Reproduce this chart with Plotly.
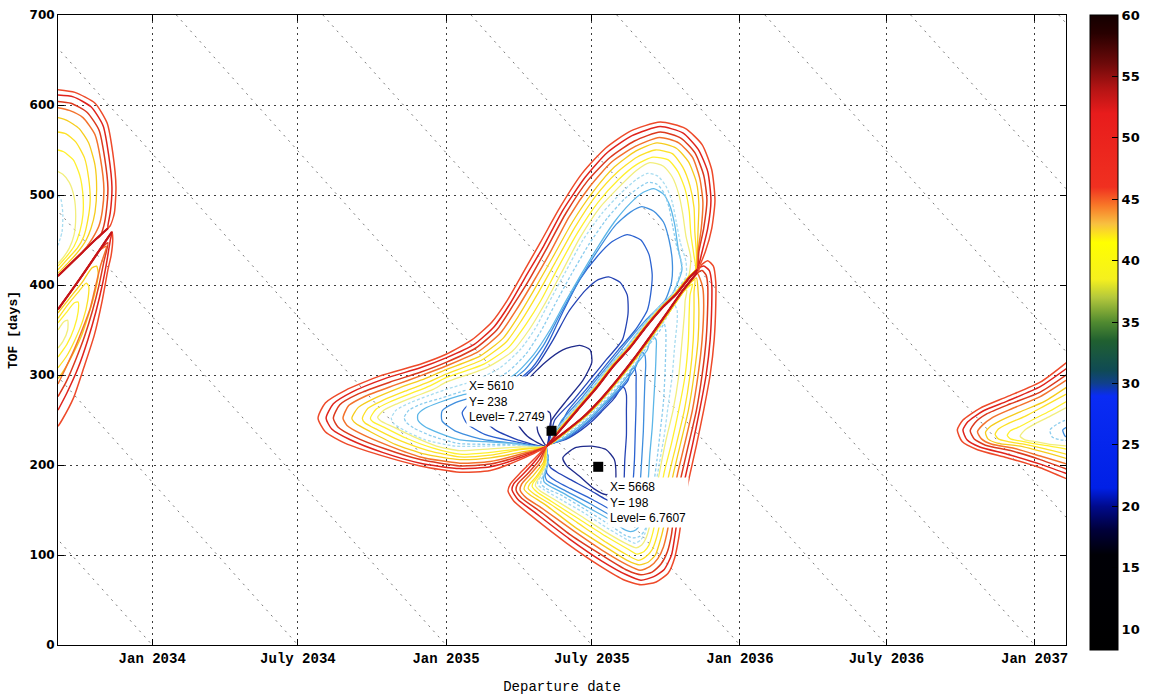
import plotly.graph_objects as go

# ---------------------------------------------------------------------------
# Axes: departure day (days counted from 2020-01-01) and time of flight (days)
# ---------------------------------------------------------------------------
DEPART_TICKS = [5114, 5295, 5479, 5660, 5844, 6026, 6210]
DEPART_LABELS = ["Jan 2034", "July 2034", "Jan 2035", "July 2035",
                 "Jan 2036", "July 2036", "Jan 2037"]
ARRIVAL_DATES = [5114, 5295, 5479, 5660, 5844, 6026, 6210, 6391, 6575, 6756, 6940]
TOF_TICKS = [0, 100, 200, 300, 400, 500, 600, 700]
X_RANGE = [4997, 6249]
Y_RANGE = [0, 700]

C3_MIN, C3_MAX = 8.3, 60.0
C3_TICKS = [10, 15, 20, 25, 30, 35, 40, 45, 50, 55, 60]

# contour colours, highest level first
LINE_COLORS = ["#ee4a2a", "#e0241c", "#dc3a1e", "#f3722c",
               "#f6cc1c", "#fde126", "#fff02e", "#f2ee7c",
               "#a8dcf0", "#8ccdee", "#5cb6e8", "#3f8ede",
               "#2b62d0", "#2443b4", "#1f2b8c"]
DOTTED = {8, 9}
EDGE_COLOR = "#c4141a"

# data tips
TIP_X = [5610, 5668]
TIP_Y = [238, 198]
TIP_LEVEL = ["7.2749", "6.7607"]

# ---------------------------------------------------------------------------
# 2035 window - type II wing (above the 180 deg transfer line)
# ---------------------------------------------------------------------------
UPPER_EDGE = [(5791, 417), (5782, 409), (5765, 390), (5749, 376), (5727, 353), (5708, 331),
              (5686, 309), (5667, 287), (5643, 262), (5621, 239), (5604, 221)]
UPPER_EDGE_Y = [(5789, 417), (5780, 409), (5763, 390), (5747, 376), (5725, 353), (5706, 331),
                (5684, 309), (5665, 287), (5641, 262), (5619, 239), (5604, 221)]
UPPER_EDGE_C = [(5786, 417), (5777, 409), (5760, 390), (5744, 376), (5722, 353), (5703, 331),
                (5681, 309), (5662, 287), (5638, 262), (5616, 239), (5604, 221)]

U1 = [(5604, 221), (5571, 206), (5534, 194), (5496, 192), (5447, 199), (5397, 211), (5354, 224),
      (5329, 237), (5320, 252), (5329, 269), (5354, 283), (5397, 299), (5447, 312), (5479, 323),
      (5511, 339), (5536, 359), (5555, 383), (5573, 411), (5596, 447), (5621, 487), (5648, 524),
      (5677, 552), (5708, 571), (5745, 581), (5776, 574), (5797, 556), (5809, 528), (5813, 494),
      (5809, 463), (5801, 437)]
U2 = [(5604, 221), (5571, 208), (5534, 198), (5496, 196), (5447, 202), (5400, 214), (5360, 228),
      (5337, 240), (5330, 252), (5339, 268), (5362, 281), (5403, 296), (5447, 308), (5479, 319),
      (5514, 334), (5539, 354), (5559, 380), (5577, 408), (5600, 443), (5624, 483), (5652, 520),
      (5679, 547), (5710, 566), (5745, 576), (5773, 569), (5792, 551), (5804, 526), (5808, 494),
      (5804, 463), (5797, 437)]
U3 = [(5604, 221), (5571, 210), (5534, 201), (5496, 199), (5447, 206), (5403, 218), (5366, 231),
      (5345, 242), (5339, 252), (5347, 267), (5370, 279), (5409, 292), (5447, 303), (5479, 314),
      (5516, 330), (5542, 350), (5562, 377), (5581, 404), (5603, 439), (5628, 480), (5655, 516),
      (5683, 542), (5713, 560), (5745, 570), (5771, 563), (5788, 547), (5799, 522), (5803, 494),
      (5799, 463), (5793, 437)]
U4 = [(5604, 221), (5571, 212), (5534, 204), (5496, 202), (5447, 209), (5409, 221), (5375, 234),
      (5356, 244), (5351, 252), (5358, 266), (5380, 277), (5416, 289), (5447, 299), (5479, 310),
      (5519, 326), (5546, 346), (5566, 372), (5585, 400), (5607, 434), (5632, 476), (5658, 510),
      (5685, 537), (5714, 554), (5744, 564), (5768, 558), (5785, 542), (5794, 519), (5798, 492),
      (5796, 463), (5792, 437)]
U5 = [(5604, 221), (5571, 214), (5534, 208), (5496, 206), (5453, 212), (5416, 223), (5385, 237),
      (5367, 246), (5362, 252), (5370, 264), (5390, 274), (5422, 286), (5453, 296), (5479, 306),
      (5521, 321), (5550, 341), (5570, 367), (5588, 394), (5611, 430), (5636, 470), (5662, 504),
      (5688, 531), (5715, 549), (5741, 558), (5765, 552), (5780, 537), (5790, 514), (5793, 489),
      (5792, 461), (5791, 437)]
U6 = [(5604, 221), (5571, 217), (5534, 211), (5496, 209), (5457, 216), (5422, 227), (5394, 239),
      (5378, 247), (5375, 252), (5382, 263), (5401, 272), (5428, 282), (5457, 292), (5479, 301),
      (5524, 317), (5554, 337), (5573, 361), (5592, 389), (5614, 424), (5639, 464), (5665, 499),
      (5690, 524), (5716, 542), (5739, 550), (5760, 546), (5773, 531), (5782, 510), (5787, 486),
      (5788, 459), (5790, 434)]
U7 = [(5604, 221), (5571, 218), (5534, 214), (5496, 212), (5462, 219), (5429, 230), (5404, 241),
      (5388, 248), (5385, 252), (5392, 262), (5409, 270), (5434, 279), (5459, 288), (5479, 297),
      (5526, 312), (5557, 331), (5578, 356), (5597, 383), (5618, 419), (5643, 459), (5668, 492),
      (5693, 517), (5716, 534), (5736, 542), (5755, 539), (5767, 526), (5776, 506), (5781, 482),
      (5783, 457), (5787, 432)]
U8 = [(5604, 221), (5571, 220), (5534, 218), (5496, 216), (5467, 221), (5437, 232), (5414, 242),
      (5398, 249), (5394, 253), (5402, 261), (5418, 268), (5440, 276), (5463, 284), (5479, 292),
      (5529, 308), (5561, 326), (5582, 350), (5601, 378), (5622, 413), (5645, 452), (5670, 486),
      (5694, 509), (5715, 527), (5732, 536), (5749, 532), (5760, 520), (5768, 501), (5773, 479),
      (5777, 454), (5783, 430)]
U9 = [(5604, 221), (5565, 222), (5527, 221), (5490, 221), (5453, 228), (5428, 238), (5414, 246),
      (5411, 252), (5417, 261), (5434, 269), (5457, 277), (5479, 284), (5515, 294), (5546, 308),
      (5571, 328), (5590, 352), (5607, 381), (5627, 414), (5649, 450), (5673, 480), (5696, 502),
      (5715, 517), (5729, 524), (5742, 521), (5752, 510), (5760, 492), (5765, 470), (5770, 447),
      (5777, 426)]
U10 = [(5604, 221), (5565, 223), (5527, 223), (5494, 224), (5462, 232), (5439, 241), (5429, 248),
       (5427, 253), (5433, 261), (5449, 268), (5472, 274), (5496, 281), (5527, 290), (5555, 303),
       (5578, 323), (5597, 349), (5614, 378), (5634, 411), (5657, 446), (5679, 474), (5701, 496),
       (5718, 508), (5730, 514), (5741, 512), (5750, 502), (5756, 486), (5761, 463), (5766, 441),
       (5772, 422)]
U11 = [(5604, 221), (5565, 224), (5527, 226), (5496, 228), (5469, 236), (5452, 243), (5444, 250),
       (5444, 256), (5453, 263), (5472, 270), (5496, 277), (5534, 286), (5565, 301), (5588, 323),
       (5608, 350), (5627, 381), (5647, 412), (5668, 443), (5688, 470), (5708, 491), (5724, 503),
       (5737, 507), (5749, 501), (5757, 488), (5763, 467), (5767, 442), (5772, 417)]
U12 = [(5604, 221), (5565, 224), (5521, 229), (5490, 238), (5474, 249), (5474, 260), (5490, 269),
       (5519, 277), (5550, 288), (5577, 306), (5600, 333), (5621, 368), (5643, 403), (5667, 438),
       (5689, 466), (5708, 481), (5722, 487), (5737, 482), (5749, 470), (5756, 450), (5760, 426),
       (5759, 403), (5751, 383), (5727, 361), (5706, 339), (5686, 317), (5665, 294), (5645, 272),
       (5623, 250), (5604, 221)]
U13 = [(5604, 221), (5565, 226), (5527, 234), (5505, 246), (5499, 258), (5509, 269), (5534, 278),
       (5561, 289), (5586, 308), (5606, 336), (5624, 370), (5645, 406), (5667, 432), (5685, 448),
       (5704, 456), (5721, 450), (5731, 434), (5735, 412), (5733, 389), (5729, 372), (5714, 350),
       (5693, 328), (5673, 306), (5652, 283), (5631, 261), (5604, 221)]
U14 = [(5604, 221), (5568, 228), (5540, 239), (5524, 252), (5525, 267), (5542, 278), (5568, 291),
       (5592, 311), (5612, 339), (5631, 370), (5652, 394), (5668, 406), (5681, 409), (5695, 403),
       (5704, 389), (5705, 368), (5698, 339), (5678, 317), (5657, 294), (5637, 272), (5614, 250),
       (5604, 221)]
U15 = [(5604, 221), (5580, 232), (5565, 250), (5566, 272), (5580, 294), (5602, 314), (5624, 328),
       (5645, 333), (5658, 328), (5660, 314), (5649, 294), (5629, 272), (5609, 248), (5604, 221)]
U16 = [(5604, 221), (5593, 237), (5592, 252), (5600, 261), (5608, 258), (5609, 241), (5604, 221)]

# ---------------------------------------------------------------------------
# 2035 window - type I wing (below the 180 deg transfer line)
# ---------------------------------------------------------------------------
LOWER_EDGE = [(5791, 414), (5782, 404), (5773, 394), (5755, 371), (5736, 347), (5714, 320),
              (5691, 294), (5670, 272), (5649, 253), (5627, 237), (5608, 224), (5604, 221)]
LOWER_EDGE_Y = [(5793, 414), (5784, 404), (5775, 394), (5757, 371), (5738, 347), (5716, 320),
                (5693, 294), (5672, 272), (5651, 253), (5629, 237), (5610, 224), (5604, 221)]

L1 = [(5604, 221), (5590, 208), (5571, 191), (5559, 179), (5556, 171), (5563, 160), (5587, 142),
      (5629, 113), (5670, 88), (5701, 72), (5721, 67), (5740, 70), (5755, 80), (5763, 97),
      (5768, 119), (5773, 150), (5781, 186), (5790, 222), (5799, 261), (5807, 300), (5812, 339),
      (5814, 378), (5814, 403), (5811, 421), (5804, 427), (5797, 423)]
L2 = [(5604, 221), (5592, 207), (5576, 191), (5563, 179), (5561, 172), (5568, 162), (5591, 146),
      (5632, 118), (5673, 93), (5703, 78), (5721, 72), (5737, 76), (5750, 84), (5759, 100),
      (5763, 120), (5768, 150), (5776, 186), (5785, 222), (5794, 261), (5802, 300), (5807, 339),
      (5809, 378), (5809, 401), (5806, 416), (5799, 421), (5793, 419)]
L3 = [(5604, 221), (5595, 206), (5580, 190), (5568, 179), (5566, 172), (5573, 163), (5595, 149),
      (5634, 122), (5674, 99), (5704, 83), (5721, 78), (5735, 81), (5746, 90), (5754, 104),
      (5759, 123), (5763, 152), (5771, 187), (5780, 222), (5790, 261), (5797, 300), (5802, 339),
      (5804, 378), (5804, 399), (5802, 411), (5797, 416), (5792, 414)]
L4 = [(5604, 221), (5597, 204), (5583, 189), (5573, 179), (5571, 172), (5578, 164), (5598, 152),
      (5637, 127), (5675, 104), (5704, 89), (5720, 83), (5732, 87), (5742, 96), (5749, 109),
      (5754, 127), (5759, 154), (5766, 188), (5775, 222), (5785, 261), (5792, 300), (5797, 339),
      (5799, 378), (5798, 396), (5794, 408), (5791, 413)]
L5 = [(5604, 221), (5600, 203), (5587, 188), (5578, 179), (5576, 173), (5583, 167), (5602, 156),
      (5639, 131), (5677, 109), (5704, 94), (5719, 89), (5730, 92), (5739, 100), (5744, 113),
      (5749, 130), (5754, 157), (5761, 189), (5770, 223), (5780, 261), (5787, 300), (5792, 339),
      (5793, 374), (5792, 394), (5790, 408)]
L6 = [(5604, 221), (5601, 202), (5591, 187), (5583, 179), (5581, 174), (5588, 168), (5606, 158),
      (5642, 136), (5678, 114), (5704, 100), (5718, 94), (5727, 98), (5735, 106), (5740, 118),
      (5744, 133), (5749, 159), (5756, 190), (5765, 223), (5775, 261), (5782, 300), (5786, 339),
      (5787, 372), (5787, 392), (5788, 406)]
L7 = [(5604, 221), (5602, 202), (5593, 187), (5587, 180), (5586, 176), (5592, 170), (5609, 160),
      (5644, 140), (5679, 120), (5704, 107), (5716, 101), (5725, 104), (5731, 111), (5735, 122),
      (5739, 138), (5744, 162), (5750, 192), (5759, 224), (5768, 261), (5776, 300), (5780, 339),
      (5781, 370), (5782, 389), (5785, 401)]
L8 = [(5604, 221), (5603, 201), (5596, 188), (5591, 181), (5590, 177), (5596, 171), (5613, 162),
      (5647, 143), (5680, 124), (5704, 112), (5715, 108), (5722, 111), (5727, 118), (5731, 129),
      (5734, 144), (5739, 168), (5745, 196), (5752, 227), (5761, 261), (5768, 299), (5772, 337),
      (5775, 367), (5776, 383), (5778, 394)]
L9 = [(5604, 221), (5604, 202), (5598, 189), (5593, 182), (5593, 178), (5600, 173), (5617, 164),
      (5650, 147), (5681, 129), (5704, 117), (5714, 113), (5721, 117), (5726, 124), (5730, 137),
      (5734, 153), (5739, 176), (5744, 202), (5750, 233), (5755, 267), (5760, 300), (5763, 333),
      (5766, 359), (5766, 372), (5762, 379), (5757, 370), (5751, 361), (5742, 350), (5734, 339),
      (5724, 328), (5715, 317), (5705, 306), (5695, 294), (5685, 283), (5674, 272), (5662, 261),
      (5649, 250), (5634, 239), (5617, 228), (5604, 221)]
L10 = [(5604, 221), (5606, 203), (5601, 190), (5597, 183), (5597, 179), (5603, 174), (5621, 167),
       (5653, 150), (5683, 133), (5701, 122), (5711, 119), (5720, 121), (5726, 128), (5730, 140),
       (5734, 157), (5737, 179), (5741, 206), (5745, 237), (5749, 270), (5751, 303), (5752, 333),
       (5752, 348), (5750, 357), (5745, 350), (5736, 339), (5726, 328), (5718, 317), (5708, 306),
       (5698, 294), (5688, 283), (5677, 272), (5664, 261), (5652, 250), (5637, 239), (5619, 228),
       (5604, 221)]
L11 = [(5604, 221), (5606, 204), (5602, 192), (5600, 186), (5601, 181), (5607, 177), (5624, 169),
       (5655, 153), (5683, 139), (5699, 129), (5708, 126), (5715, 128), (5720, 134), (5724, 146),
       (5726, 161), (5730, 183), (5732, 211), (5735, 241), (5737, 272), (5739, 303), (5740, 328),
       (5740, 339), (5736, 343), (5732, 337), (5729, 328), (5720, 317), (5710, 306), (5700, 294),
       (5690, 283), (5679, 272), (5667, 261), (5654, 250), (5639, 239), (5622, 228), (5604, 221)]
L12 = [(5604, 221), (5606, 206), (5603, 194), (5602, 188), (5604, 183), (5611, 179), (5628, 171),
       (5658, 157), (5683, 144), (5698, 137), (5705, 134), (5711, 138), (5715, 146), (5718, 159),
       (5720, 178), (5722, 206), (5724, 237), (5725, 267), (5726, 294), (5727, 311), (5726, 322),
       (5722, 326), (5719, 319), (5713, 306), (5703, 294), (5693, 283), (5681, 272), (5669, 261),
       (5657, 250), (5642, 239), (5624, 228), (5604, 221)]
L13 = [(5604, 221), (5606, 207), (5604, 197), (5604, 191), (5608, 187), (5616, 182), (5633, 174),
       (5660, 162), (5680, 152), (5693, 147), (5700, 146), (5705, 150), (5709, 161), (5711, 178),
       (5713, 206), (5714, 237), (5715, 267), (5715, 289), (5715, 301), (5713, 308), (5709, 306),
       (5705, 294), (5695, 283), (5683, 272), (5672, 261), (5659, 250), (5644, 239), (5627, 229),
       (5604, 221)]
L14 = [(5604, 221), (5604, 209), (5606, 202), (5609, 197), (5617, 192), (5633, 184), (5658, 172),
       (5677, 162), (5689, 157), (5695, 157), (5699, 163), (5700, 178), (5701, 206), (5703, 233),
       (5703, 261), (5703, 278), (5700, 286), (5696, 287), (5693, 281), (5686, 272), (5674, 261),
       (5662, 250), (5647, 239), (5629, 229), (5604, 221)]
L15 = [(5624, 208), (5639, 219), (5660, 221), (5678, 217), (5688, 206), (5690, 189), (5688, 172),
       (5678, 167), (5662, 174), (5644, 188), (5629, 199), (5624, 208)]

# ---------------------------------------------------------------------------
# 2033 window (cut by the left edge)
# ---------------------------------------------------------------------------
LEFT_UPPER_EDGE = [(5059, 463), (5043, 450), (5028, 437), (5012, 423), (4997, 410)]
LEFT_LOWER_EDGE = [(4997, 373), (5014, 394), (5032, 417), (5048, 438), (5064, 459)]

LA1 = [(4997, 617), (5018, 614), (5043, 602), (5058, 580), (5065, 547), (5069, 509), (5067, 480),
       (5062, 466)]
LA2 = [(4997, 611), (5016, 609), (5038, 598), (5053, 577), (5060, 544), (5064, 509), (5062, 481),
       (5059, 466)]
LA3 = [(4997, 604), (5013, 602), (5033, 592), (5048, 572), (5055, 541), (5059, 508), (5057, 482),
       (5054, 466), (5049, 454)]
LA4 = [(4997, 597), (5011, 594), (5028, 586), (5043, 567), (5050, 539), (5054, 507), (5052, 482),
       (5048, 466), (5040, 452)]
LA5 = [(4997, 586), (5008, 583), (5023, 574), (5035, 558), (5043, 533), (5045, 506), (5043, 481),
       (5038, 463), (5032, 450), (5022, 437), (5009, 424), (4997, 413)]
LA6 = [(4997, 570), (5007, 568), (5019, 559), (5030, 541), (5035, 519), (5037, 494), (5034, 472),
       (5029, 454), (5021, 441), (5009, 429), (4997, 417)]
LA7 = [(4997, 550), (5004, 548), (5016, 539), (5024, 522), (5028, 500), (5028, 478), (5024, 459),
       (5017, 443), (5007, 431), (4997, 421)]
LA8 = [(4997, 526), (5003, 523), (5011, 514), (5017, 498), (5019, 476), (5017, 456), (5011, 441),
       (5003, 430), (4997, 424)]
LA9 = [(4997, 500), (5001, 494), (5003, 478), (5002, 459), (4997, 444)]

LB1 = [(5065, 452), (5063, 433), (5059, 417), (5052, 383), (5042, 344), (5029, 308), (5016, 274),
       (5002, 250), (4997, 243)]
LB2 = [(5062, 450), (5058, 428), (5052, 400), (5044, 370), (5034, 339), (5022, 308), (5008, 280),
       (4997, 261)]
LB3 = [(5059, 447), (5054, 426), (5048, 400), (5040, 372), (5030, 343), (5019, 317), (5007, 292),
       (4997, 276)]
LB4 = [(5057, 443), (5050, 422), (5044, 400), (5037, 374), (5027, 350), (5016, 326), (5004, 303),
       (4997, 290)]
LB5 = [(4997, 369), (5012, 386), (5027, 403), (5039, 419), (5045, 421), (5047, 411), (5043, 392),
       (5035, 367), (5025, 341), (5013, 319), (5002, 302), (4997, 296)]
LB6 = [(4997, 363), (5009, 378), (5023, 393), (5032, 402), (5035, 399), (5034, 383), (5028, 361),
       (5018, 339), (5007, 320), (4997, 308)]
LB7 = [(4997, 358), (5007, 369), (5017, 380), (5022, 381), (5022, 370), (5017, 352), (5008, 334),
       (4997, 320)]
LB8 = [(4997, 350), (5004, 359), (5009, 361), (5009, 350), (5003, 337), (4997, 330)]

# ---------------------------------------------------------------------------
# 2037 window (cut by the right edge)
# ---------------------------------------------------------------------------
RA1 = [(6254, 317), (6217, 292), (6176, 276), (6142, 263), (6121, 250), (6114, 239), (6120, 226),
       (6139, 217), (6176, 208), (6217, 197), (6254, 183)]
RA2 = [(6254, 310), (6217, 287), (6176, 271), (6146, 260), (6127, 248), (6121, 239), (6126, 228),
       (6142, 220), (6176, 212), (6217, 201), (6254, 189)]
RA3 = [(6254, 303), (6217, 281), (6180, 268), (6151, 257), (6136, 247), (6130, 238), (6135, 229),
       (6149, 222), (6180, 216), (6217, 206), (6254, 194)]
RA4 = [(6254, 297), (6217, 276), (6183, 263), (6158, 253), (6145, 244), (6139, 237), (6144, 229),
       (6157, 223), (6183, 219), (6217, 210), (6254, 200)]
RA5 = [(6254, 289), (6223, 271), (6192, 259), (6167, 249), (6154, 242), (6149, 236), (6152, 229),
       (6165, 224), (6192, 221), (6223, 214), (6254, 206)]
RA6 = [(6254, 281), (6223, 266), (6198, 254), (6177, 246), (6165, 240), (6161, 234), (6165, 229),
       (6177, 226), (6198, 223), (6223, 218), (6254, 211)]
RA7 = [(6254, 273), (6229, 260), (6207, 250), (6190, 242), (6180, 238), (6176, 233), (6180, 229),
       (6190, 227), (6207, 224), (6229, 221), (6254, 217)]
RA8 = [(6254, 266), (6229, 254), (6211, 246), (6198, 239), (6192, 232), (6198, 228), (6211, 226),
       (6229, 223), (6254, 221)]
RA9 = [(6254, 252), (6239, 246), (6229, 239), (6232, 231), (6242, 228), (6254, 227)]
RA10 = [(6254, 244), (6245, 239), (6248, 232), (6254, 230)]

# (points, colour index) in drawing order: inner levels first, red levels on top
CENTER_CURVES = [
    (U16, 14), (U15, 14), (U14, 13), (U13, 12), (U12, 11),
    (U11 + UPPER_EDGE_C[2:], 10), (U10 + UPPER_EDGE_C[2:], 9), (U9 + UPPER_EDGE_C[1:], 8),
    (L15, 14), (L14, 13), (L13, 12), (L12, 11), (L11, 10), (L10, 9), (L9, 8),
    (U8 + UPPER_EDGE_Y[1:], 7), (U7 + UPPER_EDGE_Y, 6), (U6 + UPPER_EDGE_Y, 5), (U5 + UPPER_EDGE_Y, 4),
    (L8 + LOWER_EDGE_Y[2:], 7), (L7 + LOWER_EDGE_Y[2:], 6), (L6 + LOWER_EDGE_Y[1:], 5),
    (L5 + LOWER_EDGE_Y[1:], 4),
    (U4 + UPPER_EDGE, 3), (U3 + UPPER_EDGE, 2), (U2 + UPPER_EDGE, 1), (U1 + UPPER_EDGE, 0),
    (L4 + LOWER_EDGE[1:], 3), (L3 + LOWER_EDGE[1:], 2), (L2 + LOWER_EDGE, 1), (L1 + LOWER_EDGE, 0),
]
LEFT_CURVES = [
    (LA9, 8), (LA8, 7), (LA7, 6), (LA6, 5), (LA5, 4),
    (LA4 + LEFT_UPPER_EDGE[2:], 3), (LA3 + LEFT_UPPER_EDGE[1:], 2),
    (LA2 + LEFT_UPPER_EDGE, 1), (LA1 + LEFT_UPPER_EDGE, 0),
    (LB8, 7), (LB7, 6), (LB6, 5), (LB5, 4),
    (LEFT_LOWER_EDGE[:-1] + LB4, 3), (LEFT_LOWER_EDGE[:-1] + LB3, 2),
    (LEFT_LOWER_EDGE + LB2, 1), (LEFT_LOWER_EDGE + LB1, 0),
]
RIGHT_CURVES = [
    (RA10, 11), (RA9, 9), (RA8, 7), (RA7, 6), (RA6, 5), (RA5, 4),
    (RA4, 3), (RA3, 2), (RA2, 1), (RA1, 0),
]
# the bunched-up contours along each 180 deg transfer line
TRANSFER_EDGES = [UPPER_EDGE, LOWER_EDGE, LEFT_UPPER_EDGE, LEFT_LOWER_EDGE]

# colour map shown on the bar
C3_COLORSCALE = [
    [0.0, "#000000"], [0.15, "#000006"], [0.19, "#00003c"], [0.226, "#000a8c"],
    [0.255, "#0020e6"], [0.40, "#0a2cf4"], [0.42, "#10408c"], [0.44, "#0f4a55"],
    [0.487, "#206030"], [0.516, "#508a30"], [0.555, "#b4c83c"], [0.584, "#f5f01e"],
    [0.642, "#ffff00"], [0.671, "#f8c040"], [0.70, "#f87828"], [0.729, "#f03020"],
    [0.845, "#e81c1c"], [0.884, "#b41414"], [0.923, "#6e0a0a"], [0.971, "#280000"],
    [1.0, "#140000"],
]

fig = go.Figure()

# constant-arrival-date guide lines
for a in ARRIVAL_DATES:
    fig.add_trace(go.Scatter(
        x=[a - 700, a], y=[700, 0], mode="lines",
        line=dict(color="#7a7a7a", width=1, dash="2px,5px"),
        hoverinfo="skip", showlegend=False))


def add_curve(points, color, width, dash="solid"):
    fig.add_trace(go.Scatter(
        x=[p[0] for p in points], y=[p[1] for p in points], mode="lines",
        line=dict(color=color, width=width, dash=dash, shape="spline", smoothing=0.6),
        hoverinfo="skip", showlegend=False))


for pts, idx in LEFT_CURVES + CENTER_CURVES + RIGHT_CURVES:
    add_curve(pts, LINE_COLORS[idx], 1.5 if idx < 4 else 1.3,
              "3px,2px" if idx in DOTTED else "solid")

for pts in TRANSFER_EDGES:
    add_curve(pts, EDGE_COLOR, 2.2)

# data-tip markers
fig.add_trace(go.Scatter(
    x=TIP_X, y=TIP_Y, mode="markers",
    marker=dict(symbol="square", size=10, color="black"),
    hoverinfo="skip", showlegend=False))

# colour bar
fig.add_trace(go.Scatter(
    x=[4900, 4900], y=[-50, -50], mode="markers",
    marker=dict(size=2, color=[C3_MIN, C3_MAX], cmin=C3_MIN, cmax=C3_MAX,
                colorscale=C3_COLORSCALE, showscale=True,
                colorbar=dict(
                    x=1.0238, xanchor="left", xpad=0, y=1.0, yanchor="top", ypad=0,
                    thickness=28, thicknessmode="pixels", len=635, lenmode="pixels",
                    outlinecolor="black", outlinewidth=1,
                    tickvals=C3_TICKS, ticks="inside", ticklen=6, tickcolor="black",
                    tickfont=dict(family="DejaVu Sans", size=13, color="black", weight="bold"))),
    hoverinfo="skip", showlegend=False))

tip_text = [f"X= {x}<br>Y= {y}<br>Level= {lv}" for x, y, lv in zip(TIP_X, TIP_Y, TIP_LEVEL)]
tip_shift = [(-86, 55), (9, -10)]
for x, y, txt, (dx, dy) in zip(TIP_X, TIP_Y, tip_text, tip_shift):
    fig.add_annotation(
        x=x, y=y, text=txt, showarrow=False, xanchor="left", yanchor="top",
        xshift=dx, yshift=dy, align="left", bgcolor="white", borderpad=2,
        font=dict(family="Liberation Sans", size=12, color="black"))

axis_common = dict(
    showline=True, linecolor="black", linewidth=1, mirror="ticks",
    ticks="inside", ticklen=6, tickcolor="black",
    showgrid=True, gridcolor="#3c3c3c", gridwidth=1, griddash="2px,4px",
    zeroline=False,
)

fig.update_layout(
    width=1151, height=696,
    margin=dict(l=58, r=85, t=15, b=51, autoexpand=False),
    paper_bgcolor="white", plot_bgcolor="white",
    font=dict(family="DejaVu Sans", color="black"),
    xaxis=dict(
        range=X_RANGE, tickvals=DEPART_TICKS,
        ticktext=[f"<b>{t}</b>" for t in DEPART_LABELS],
        tickfont=dict(family="Liberation Mono", size=14, color="black"),
        title=dict(text="Departure date", standoff=15,
                   font=dict(family="Liberation Mono", size=14, color="black")),
        automargin=False, **axis_common),
    yaxis=dict(
        range=Y_RANGE, tickvals=TOF_TICKS,
        tickfont=dict(family="DejaVu Sans", size=12, color="black", weight="bold"),
        title=dict(text="<b>TOF [days]</b>", standoff=8,
                   font=dict(family="Liberation Mono", size=13, color="black")),
        automargin=False, **axis_common),
)

fig.write_html("out.html")
